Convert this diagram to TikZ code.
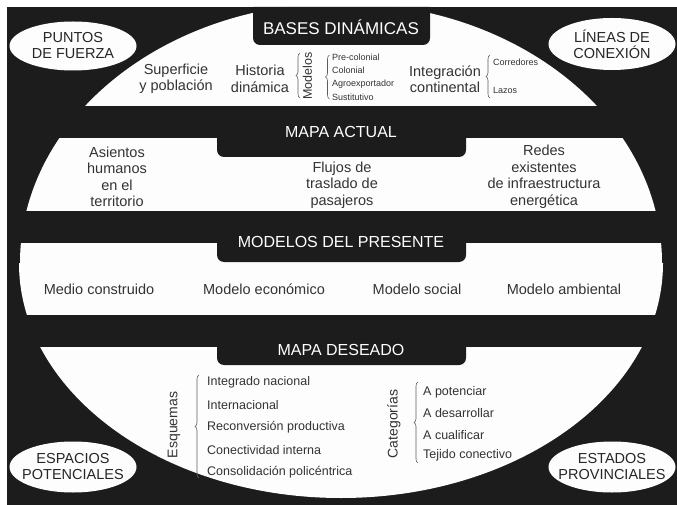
\documentclass[tikz,border=0pt]{standalone}
\usepackage{fontspec}
\setmainfont{Liberation Sans}
\usetikzlibrary{shapes.geometric,decorations.pathreplacing}
\definecolor{bgblack}{HTML}{1C1C1C}
\definecolor{txtgray}{HTML}{333333}
\definecolor{paper}{HTML}{FDFDFD}
\begin{document}
\begin{tikzpicture}[x=1pt,y=-1pt,
  tabtitle/.style={text=white,font=\fontsize{16}{18}\selectfont, inner sep=0pt, anchor=base},
  bandtext/.style={text=txtgray, font=\fontsize{14.5}{16.5}\selectfont, align=center, inner sep=0pt},
  smalltext/.style={text=txtgray, font=\fontsize{9}{10}\selectfont, anchor=west, inner sep=0pt},
  listtext/.style={text=txtgray, font=\fontsize{12.5}{14}\selectfont, anchor=west, inner sep=0pt},
  rotlabel/.style={text=txtgray, rotate=90, inner sep=0pt},
  sidetext/.style={align=center, text=black!85, inner sep=0pt, font=\fontsize{14.5}{16}\selectfont},
  sidefill/.style={fill=paper},
  bracket/.style={draw=txtgray!80, line width=0.6pt, decorate, decoration={brace, amplitude=4pt}},
]
\useasboundingbox (0,0) rectangle (677,505);
\fill[white] (0,0) rectangle (677,505);
\fill[bgblack] (6.5,7) rectangle (677,505);

% big white oval
\begin{scope}
  \clip (6.5,7) rectangle (677,263);
  \fill[paper] (341,263) ellipse [x radius=321, y radius=260];
\end{scope}
\begin{scope}
  \clip (6.5,263) rectangle (677,505);
  \fill[paper] (341,263) ellipse [x radius=322, y radius=235];
\end{scope}

% black strips between bands
\fill[bgblack] (6.5,106) rectangle (677,138);
\fill[bgblack] (6.5,211) rectangle (677,243);
\fill[bgblack] (6.5,315) rectangle (677,347);

% tabs
\fill[bgblack] (253,7) [rounded corners=7pt] -- (253,45) -- (430,45) [sharp corners] -- (430,7) -- cycle;
\fill[bgblack] (217,120) [rounded corners=7pt] -- (217,157) -- (466,157) [sharp corners] -- (466,120) -- cycle;
\fill[bgblack] (217,225) [rounded corners=7pt] -- (217,262) -- (466,262) [sharp corners] -- (466,225) -- cycle;
\fill[bgblack] (217,330) [rounded corners=7pt] -- (217,365) -- (466,365) [sharp corners] -- (466,330) -- cycle;

\node[tabtitle, font=\fontsize{17}{19}\selectfont] (t1) at (341,35) {BASES DINÁMICAS};
\node[tabtitle] (t2) at (341,138) {MAPA ACTUAL};
\node[tabtitle] (t3) at (341,247) {MODELOS DEL PRESENTE};
\node[tabtitle] (t4) at (341,355) {MAPA DESEADO};

% side ellipses
\fill[sidefill] (73,46) ellipse [x radius=63.5, y radius=24.5];
\node[sidetext] (puntos) at (73,46) {PUNTOS\\DE FUERZA};
\fill[sidefill] (612,44) ellipse [x radius=63.5, y radius=26];
\node[sidetext] (lineas) at (612,44) {LÍNEAS DE\\CONEXIÓN};
\fill[sidefill] (73,467) ellipse [x radius=63.5, y radius=25.5];
\node[sidetext] (espacios) at (73,467) {ESPACIOS\\POTENCIALES};
\fill[sidefill] (612,467) ellipse [x radius=63.5, y radius=25.5];
\node[sidetext] (estados) at (612,467) {ESTADOS\\PROVINCIALES};

% band 1
\node[bandtext] (sup) at (176,79) {Superficie\\y población};
\node[bandtext] (hist) at (260,79) {Historia\\dinámica};
\draw[bracket] (300,98) -- (300,53);
\node[rotlabel, font=\fontsize{12.5}{14}\selectfont] (modelos) at (307.5,76) {Modelos};
\draw[bracket] (329.5,99) -- (329.5,55);
\node[smalltext] (pre) at (332,57) {Pre-colonial};
\node[smalltext] (col) at (332,70.5) {Colonial};
\node[smalltext] (agro) at (332,84) {Agroexportador};
\node[smalltext] (sust) at (332,97) {Sustitutivo};
\node[bandtext] (integ) at (445,79) {Integración\\continental};
\draw[bracket] (490,98) -- (490,55);
\node[smalltext] (corr) at (493,62) {Corredores};
\node[smalltext] (lazos) at (493,90) {Lazos};

% band 2
\node[bandtext] (asientos) at (117,177) {Asientos\\humanos\\en el\\territorio};
\node[bandtext] (flujos) at (342,185) {Flujos de\\traslado de\\pasajeros};
\node[bandtext] (redes) at (544,177) {Redes\\existentes\\de infraestructura\\energética};

% band 3
\node[bandtext] (medio) at (99,289) {Medio construido};
\node[bandtext] (econ) at (264,289) {Modelo económico};
\node[bandtext] (social) at (417,289) {Modelo social};
\node[bandtext] (amb) at (564,289) {Modelo ambiental};

% band 4
\node[rotlabel, font=\fontsize{14}{16}\selectfont] (esq) at (174,425) {Esquemas};
\draw[bracket] (199,478) -- (199,375);
\node[listtext] (e1) at (207,382) {Integrado nacional};
\node[listtext] (e2) at (207,405) {Internacional};
\node[listtext] (e3) at (207,427) {Reconversión productiva};
\node[listtext] (e4) at (207,450) {Conectividad interna};
\node[listtext] (e5) at (207,472) {Consolidación policéntrica};
\node[rotlabel, font=\fontsize{14}{16}\selectfont] (cat) at (394,424) {Categorías};
\draw[bracket] (418,463) -- (418,382);
\node[listtext] (c1) at (423,392) {A potenciar};
\node[listtext] (c2) at (423,413) {A desarrollar};
\node[listtext] (c3) at (423,435) {A cualificar};
\node[listtext] (c4) at (423,455) {Tejido conectivo};
\end{tikzpicture}
\end{document}
